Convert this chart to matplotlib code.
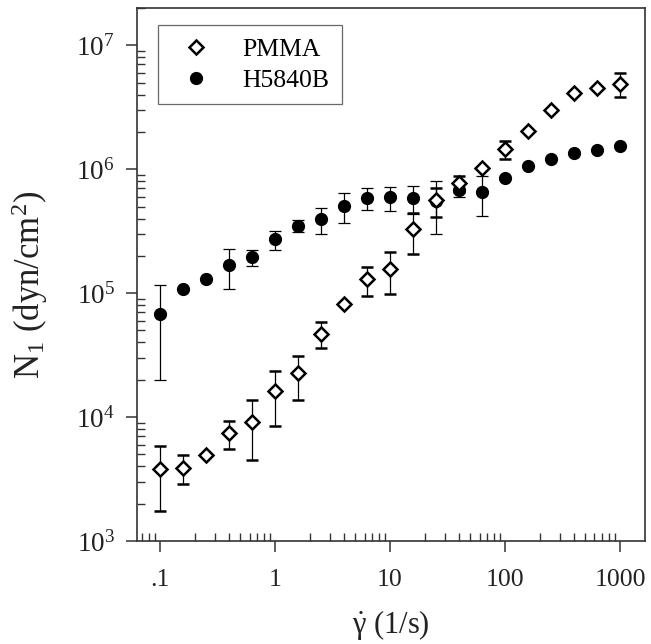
import numpy as np
import matplotlib
matplotlib.use('Agg')
from matplotlib import pyplot as plt
from matplotlib.ticker import FixedLocator, FixedFormatter, LogLocator, NullFormatter

plt.rcParams['font.family'] = 'Liberation Serif'
plt.rcParams['mathtext.fontset'] = 'custom'
plt.rcParams['mathtext.rm'] = 'Liberation Serif'
plt.rcParams['mathtext.it'] = 'Liberation Serif:italic'

# shear rates (1/s)
rate = [0.1, 0.158, 0.251, 0.398, 0.631, 1, 1.58, 2.51, 3.98, 6.31, 10,
        15.8, 25.1, 39.8, 63.1, 100, 158, 251, 398, 631, 1000]

# N1 (dyn/cm2)
pmma = [3.8e3, 3.9e3, 4.9e3, 7.4e3, 9.1e3, 1.61e4, 2.25e4, 4.7e4, 8.1e4, 1.29e5, 1.56e5,
        3.27e5, 5.6e5, 7.7e5, 1.03e6, 1.45e6, 2.02e6, 3.03e6, 4.12e6, 4.53e6, 4.91e6]
pmma_err = [2.06e3, 1.0e3, 0, 1.9e3, 4.6e3, 7.6e3, 8.8e3, 1.1e4, 0, 3.5e4, 5.7e4,
            1.2e5, 1.5e5, 1.1e5, 0, 2.5e5, 0, 0, 0, 0, 1.05e6]

h5840b = [6.8e4, 1.08e5, 1.31e5, 1.68e5, 1.94e5, 2.71e5, 3.49e5, 3.93e5, 5.06e5, 5.87e5, 5.94e5,
          5.87e5, 5.5e5, 6.8e5, 6.5e5, 8.5e5, 1.06e6, 1.2e6, 1.34e6, 1.44e6, 1.54e6]
h5840b_err = [4.8e4, 0, 0, 6.1e4, 2.8e4, 4.8e4, 3.7e4, 9.2e4, 1.4e5, 1.16e5, 1.3e5,
              1.5e5, 2.5e5, 0.8e5, 2.3e5, 0, 0, 0, 0, 0, 0]

xticks = [0.1, 1, 10, 100, 1000]
xticklabels = ['.1', '1', '10', '100', '1000']
yticks = [1e3, 1e4, 1e5, 1e6, 1e7]
yticklabels = ['10$^3$', '10$^4$', '10$^5$', '10$^6$', '10$^7$']

fig = plt.figure(figsize=(6.51, 6.44), dpi=100)
ax = fig.add_axes([0.2104, 0.16, 0.7804, 0.8276])

eb1 = ax.errorbar(rate, pmma, yerr=pmma_err, fmt='D', mfc='white', mec='black', mew=1.8,
                  ms=7.5, ecolor='black', elinewidth=0.9, capsize=4, capthick=0.9,
                  label='PMMA', zorder=3)
eb2 = ax.errorbar(rate, h5840b, yerr=h5840b_err, fmt='o', color='black', ms=8.5,
                  ecolor='black', elinewidth=0.9, capsize=4, capthick=0.9,
                  label='H5840B', zorder=2)

ax.set_xscale('log')
ax.set_yscale('log')
ax.set_xlim(0.063, 1650)
ax.set_ylim(1e3, 2e7)

ax.xaxis.set_major_locator(FixedLocator(xticks))
ax.xaxis.set_major_formatter(FixedFormatter(xticklabels))
ax.yaxis.set_major_locator(FixedLocator(yticks))
ax.yaxis.set_major_formatter(FixedFormatter(yticklabels))
ax.xaxis.set_minor_locator(LogLocator(base=10, subs=np.arange(2, 10), numticks=20))
ax.yaxis.set_minor_locator(LogLocator(base=10, subs=np.arange(2, 10), numticks=20))
ax.xaxis.set_minor_formatter(NullFormatter())
ax.yaxis.set_minor_formatter(NullFormatter())

ax.tick_params(which='major', direction='out', length=8, width=1.1,
               color='#333333', labelcolor='#222222')
ax.tick_params(which='minor', direction='in', length=6, width=1.0, color='#333333')
ax.tick_params(axis='x', which='major', pad=12, labelsize=18.5)
ax.tick_params(axis='y', which='major', pad=8, labelsize=19.5)
for s in ax.spines.values():
    s.set_linewidth(1.2)
    s.set_color('#333333')

ax.set_ylabel('N$_1$ (dyn/cm$^2$)', fontsize=25, color='#222222')
ax.yaxis.set_label_coords(-0.172, 0.48)
ax.set_xlabel(r'$\dot{\mathrm{\gamma}}$ (1/s)', fontsize=22, color='#222222')
ax.xaxis.set_label_coords(0.5, -0.125)

leg = ax.legend(handles=[eb1[0], eb2[0]], labels=['PMMA', 'H5840B'],
                loc='upper left', bbox_to_anchor=(0.041, 0.968), borderaxespad=0,
                fancybox=False, frameon=True, edgecolor='#444444', fontsize=18.5,
                handlelength=2.0, handletextpad=0.8, borderpad=0.5, labelspacing=0.3,
                numpoints=1)
leg.get_frame().set_linewidth(0.9)

fig.savefig('out.png', dpi=100)
